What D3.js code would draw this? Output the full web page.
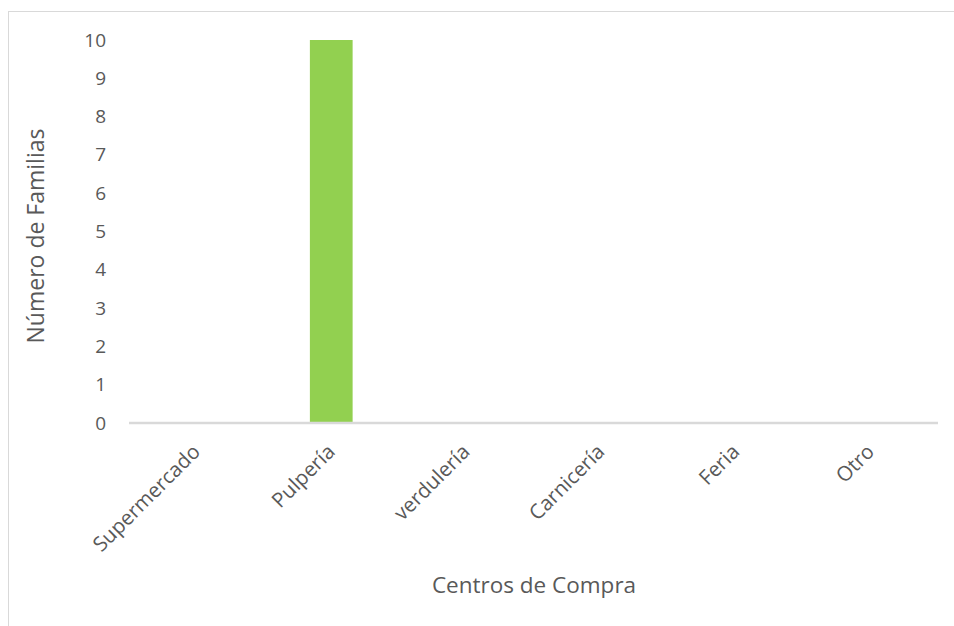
<!DOCTYPE html>
<html><head><meta charset="utf-8">
<script src="https://cdn.jsdelivr.net/npm/d3@7/dist/d3.min.js"></script>
<style>body{margin:0;background:#fff;} svg{display:block;}</style>
</head><body>
<svg id="chart" width="954" height="626"></svg>
<script>
const categories = ["Supermercado","Pulpería","verdulería","Carnicería","Feria","Otro"];
const values = [0,10,0,0,0,0];
const yTicks = [0,1,2,3,4,5,6,7,8,9,10];
const xTitle = "Centros de Compra";
const yTitle = "Número de Familias";

const svg = d3.select("#chart");
const font = "'Open Sans', sans-serif";
const textColor = "#595959";
const m = {left:129, right:954-938, top:40, bottom:626-423};
const W = 954, H = 626;

// outer frame (left and top edges visible)
svg.append("rect").attr("x",8.5).attr("y",11.5).attr("width",W).attr("height",H)
  .attr("fill","none").attr("stroke","#d9d9d9").attr("stroke-width",1);

const x = d3.scaleBand().domain(categories).range([m.left, W-m.right]).paddingInner(0.683).paddingOuter(0.683/2);
const y = d3.scaleLinear().domain([0,10]).range([H-m.bottom, m.top]);

svg.selectAll("rect.bar").data(categories).join("rect").attr("class","bar")
  .attr("x", d=>x(d)).attr("width", x.bandwidth())
  .attr("y", (d,i)=>y(values[i])).attr("height",(d,i)=>y(0)-y(values[i]))
  .attr("fill","#92d050");

// y axis labels
const yAxis = d3.axisLeft(y).tickValues(yTicks).tickSize(0).tickPadding(0).tickFormat(d3.format("d"));
const gy = svg.append("g").attr("transform",`translate(${106},0)`).call(yAxis);
gy.select(".domain").remove();
gy.selectAll("text").attr("font-family",font).attr("font-size",19).attr("fill",textColor);

// x axis
const xAxis = d3.axisBottom(x).tickSize(0).tickPadding(0);
const gx = svg.append("g").attr("transform",`translate(0,${y(0)})`).call(xAxis);
gx.select(".domain").attr("stroke","#d9d9d9").attr("stroke-width",2.5)
  .attr("d", `M${m.left},0H${W-m.right}`);
gx.selectAll("text").attr("font-family",font).attr("font-size",20.5).attr("fill",textColor)
  .attr("text-anchor","end").attr("dy",null).attr("y",0)
  .attr("transform","translate(5,30) rotate(-45)");

svg.append("text").attr("x",534).attr("y",593).attr("text-anchor","middle")
  .attr("font-family",font).attr("font-size",22.5).attr("fill",textColor).text(xTitle);
svg.append("text").attr("transform",`translate(44,236) rotate(-90)`).attr("text-anchor","middle")
  .attr("font-family",font).attr("font-size",23).attr("fill",textColor).text(yTitle);
</script>
</body></html>
